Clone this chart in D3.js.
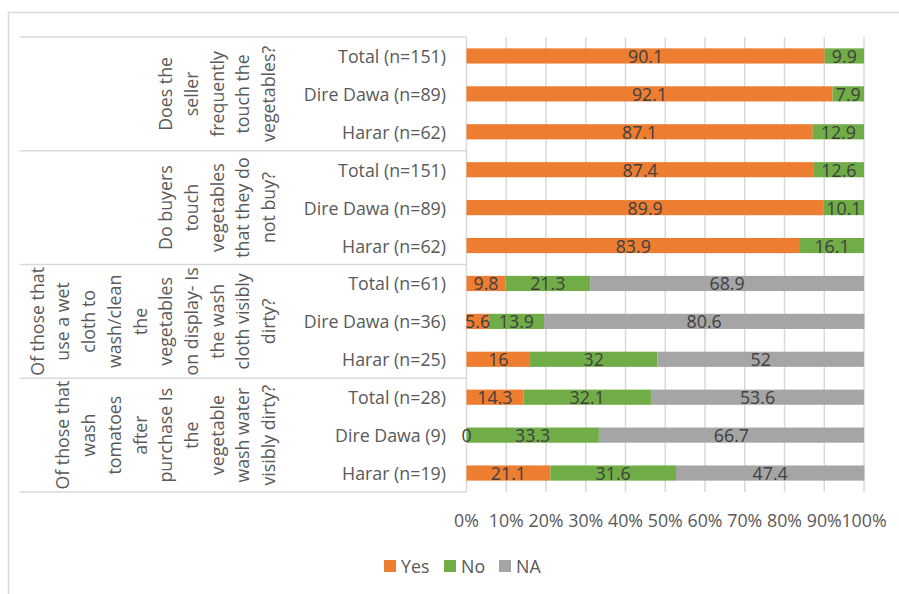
<!DOCTYPE html>
<html>
<head>
<meta charset="utf-8">
<script src="https://cdn.jsdelivr.net/npm/d3@7"></script>
<style>
  html, body { margin: 0; padding: 0; background: #fff; }
  svg { display: block; }
  text { font-family: "Open Sans", sans-serif; }
</style>
</head>
<body>
<svg id="chart" width="899" height="594"></svg>
<script>
// ---------- data ----------
const rowLabels = ["Total (n=151)", "Dire Dawa (n=89)", "Harar (n=62)",
                   "Total (n=151)", "Dire Dawa (n=89)", "Harar (n=62)",
                   "Total (n=61)", "Dire Dawa (n=36)", "Harar (n=25)",
                   "Total (n=28)", "Dire Dawa (9)", "Harar (n=19)"];
const groupLines = [
  ["Does the", "seller", "frequently", "touch the", "vegetables?"],
  ["Do buyers", "touch", "vegetables", "that they do", "not buy?"],
  ["Of those that", "use a wet", "cloth to", "wash/clean", "the", "vegetables", "on display- Is", "the wash", "cloth visibly", "dirty?"],
  ["Of those that", "wash", "tomatoes", "after", "purchase Is", "the", "vegetable", "wash water", "visibly dirty?"]
];
const rowsPerGroup = 3;
const yesValues = [90.1, 92.1, 87.1, 87.4, 89.9, 83.9, 9.8, 5.6, 16, 14.3, 0, 21.1];
const noValues  = [9.9, 7.9, 12.9, 12.6, 10.1, 16.1, 21.3, 13.9, 32, 32.1, 33.3, 31.6];
const naValues  = [null, null, null, null, null, null, 68.9, 80.6, 52, 53.6, 66.7, 47.4];
const seriesNames = ["Yes", "No", "NA"];
const seriesColors = ["#ED7D31", "#70AD47", "#A5A5A5"];
const xTicks = [0, 10, 20, 30, 40, 50, 60, 70, 80, 90, 100];

// ---------- layout ----------
const svg = d3.select("#chart");
const plotLeft = 466.5, plotRight = 864, plotTop = 37, plotBottom = 492;
const fontSize = 17.8;
const gridColor = "#D9D9D9";

const x = d3.scaleLinear().domain([0, 100]).range([plotLeft, plotRight]);
const y = d3.scaleBand().domain(d3.range(rowLabels.length))
  .range([plotTop, plotBottom]).paddingInner(0.6).paddingOuter(0.3);
const step = y.step();

// outer chart border (partial, as in reference)
svg.append("path")
  .attr("d", `M8.5,594 L8.5,12.5 L899,12.5`)
  .attr("fill", "none").attr("stroke", gridColor).attr("stroke-width", 1.5);

// gridlines
svg.append("g").selectAll("line").data(xTicks).join("line")
  .attr("x1", d => x(d)).attr("x2", d => x(d))
  .attr("y1", plotTop).attr("y2", plotBottom)
  .attr("stroke", gridColor).attr("stroke-width", 1.5);

// group separators in the category area
const sepIdx = d3.range(0, rowLabels.length + 1, rowsPerGroup);
svg.append("g").selectAll("line").data(sepIdx).join("line")
  .attr("x1", 20).attr("x2", plotLeft)
  .attr("y1", d => plotTop + d * step).attr("y2", d => plotTop + d * step)
  .attr("stroke", gridColor).attr("stroke-width", 1.5);

// stacked data
const rows = rowLabels.map((lab, i) => ({
  i, Yes: yesValues[i], No: noValues[i], NA: naValues[i] == null ? 0 : naValues[i], hasNA: naValues[i] != null
}));
const stacked = d3.stack().keys(seriesNames)(rows);

const gBars = svg.append("g");
stacked.forEach((layer, si) => {
  gBars.append("g").attr("fill", seriesColors[si])
    .selectAll("rect").data(layer).join("rect")
    .attr("x", d => x(d[0]))
    .attr("width", d => Math.max(0, x(d[1]) - x(d[0])))
    .attr("y", d => y(d.data.i))
    .attr("height", y.bandwidth());
});

// value labels
stacked.forEach((layer, si) => {
  const key = seriesNames[si];
  svg.append("g").selectAll("text")
    .data(layer.filter(d => key !== "NA" || d.data.hasNA)).join("text")
    .attr("x", d => x((d[0] + d[1]) / 2))
    .attr("y", d => y(d.data.i) + y.bandwidth() / 2)
    .attr("text-anchor", "middle").attr("dominant-baseline", "central")
    .attr("font-size", fontSize).attr("fill", "#404040")
    .text(d => d.data[key]);
});

// row labels
svg.append("g").selectAll("text").data(rowLabels).join("text")
  .attr("x", 446)
  .attr("y", (d, i) => y(i) + y.bandwidth() / 2)
  .attr("text-anchor", "end").attr("dominant-baseline", "central")
  .attr("font-size", fontSize).attr("fill", "#595959")
  .text(d => d);

// group labels (rotated, multi-line)
const lineGap = 25.7, lastLineX = 268;
groupLines.forEach((lines, gi) => {
  const cy = plotTop + (gi * rowsPerGroup + rowsPerGroup / 2) * step;
  const n = lines.length;
  svg.append("g").selectAll("text").data(lines).join("text")
    .attr("transform", (d, li) => {
      const cx = lastLineX - (n - 1 - li) * lineGap;
      return `translate(${cx},${cy}) rotate(-90)`;
    })
    .attr("text-anchor", "middle").attr("dominant-baseline", "central")
    .attr("font-size", fontSize).attr("fill", "#595959")
    .text(d => d);
});

// x tick labels
svg.append("g").selectAll("text").data(xTicks).join("text")
  .attr("x", d => x(d)).attr("y", 520)
  .attr("text-anchor", "middle").attr("dominant-baseline", "central")
  .attr("font-size", fontSize).attr("fill", "#595959")
  .text(d => d + "%");

// legend
const legendX = [384, 444, 499];
const legend = svg.append("g");
seriesNames.forEach((name, i) => {
  legend.append("rect").attr("x", legendX[i]).attr("y", 560)
    .attr("width", 12).attr("height", 12).attr("fill", seriesColors[i]);
  legend.append("text").attr("x", legendX[i] + 17).attr("y", 566)
    .attr("dominant-baseline", "central")
    .attr("font-size", fontSize).attr("fill", "#595959").text(name);
});
</script>
</body>
</html>
